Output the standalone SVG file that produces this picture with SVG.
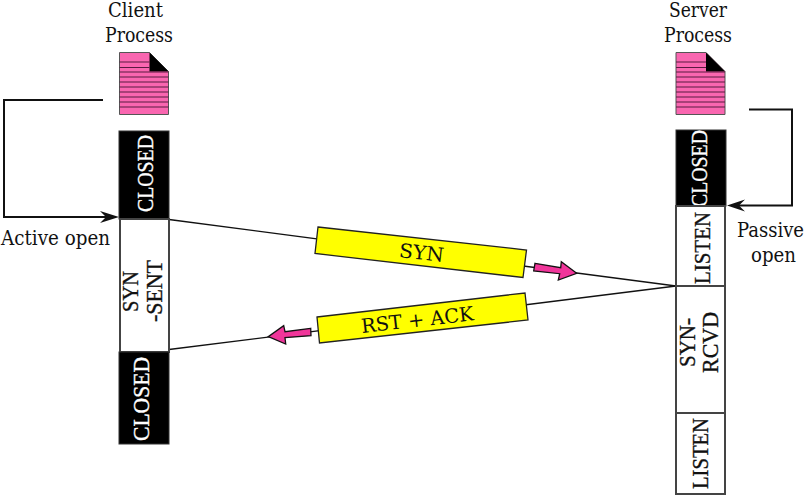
<svg xmlns="http://www.w3.org/2000/svg" width="811" height="495" viewBox="0 0 811 495">
<style>
text{font-family:"DejaVu Serif Condensed","DejaVu Serif","Liberation Serif",serif;font-size:19.500px;fill:#111}
.st{font-family:"Liberation Serif",serif;font-size:23px;stroke:#111;stroke-width:.35}
.w{fill:#fff;stroke:#fff}
.blk{fill:#000;stroke:#333;stroke-width:1}
.wht{fill:#fff;stroke:#444;stroke-width:2}
.ln{fill:none;stroke:#111;stroke-width:1.4}
.br{fill:none;stroke:#111;stroke-width:2}
.yl{fill:#ff0;stroke:#222;stroke-width:1.3}
.pk{fill:#f0359a;stroke:#111;stroke-width:1.3}
.dp{fill:#f966b0;stroke:#555;stroke-width:1}
.dl{stroke:#5a1a40;stroke-width:1.1}
</style>
<defs>
<g id="doc">
<path class="dp" d="M0 0H30L49 19V62H0Z"/>
<path d="M30 0L49 19H30Z" fill="#000"/>
<path class="dl" d="M0 9.500H30M0 15H30M0 19.500H49M0 24.500H49M0 29.500H49M0 34.500H49M0 39.500H49M0 44.500H49M0 49.500H49M0 54.500H49"/>
</g>
</defs>
<g id="connectors">
<path class="ln" d="M169 219.500L676 286"/>
<path class="ln" d="M169 349.500L676 286"/>
<path class="br" d="M103 100H4V217H108"/>
<path d="M119 217L100 211L106 217L100 223Z" fill="#111"/>
<path class="br" d="M749 109.500H792V205.500H738"/>
<path d="M727 205.500L745 199.500L739 205.500L745 211.500Z" fill="#111"/>
</g>
<g id="client-label"><text x="108" y="17" textLength="55" lengthAdjust="spacingAndGlyphs">Client</text><text x="105" y="42" textLength="68" lengthAdjust="spacingAndGlyphs">Process</text></g>
<g id="server-label"><text x="669" y="17" textLength="58" lengthAdjust="spacingAndGlyphs">Server</text><text x="664" y="42" textLength="68" lengthAdjust="spacingAndGlyphs">Process</text></g>
<g id="client-doc"><use href="#doc" x="119.500" y="52.500"/></g>
<g id="server-doc"><use href="#doc" x="676" y="52.500"/></g>
<g id="client-closed-1"><rect class="blk" x="119" y="131" width="50" height="88"/><text class="st w" transform="translate(152.500 212) rotate(-90)" textLength="77" lengthAdjust="spacingAndGlyphs">CLOSED</text></g>
<g id="client-syn-sent"><rect class="wht" x="120" y="219" width="49" height="133"/><text class="st" transform="translate(138 312) rotate(-90)" textLength="41" lengthAdjust="spacingAndGlyphs">SYN</text><text class="st" transform="translate(162 322) rotate(-90)" textLength="62" lengthAdjust="spacingAndGlyphs">-SENT</text></g>
<g id="client-closed-2"><rect class="blk" x="119" y="352" width="50" height="92"/><text class="st w" transform="translate(149 441) rotate(-90)" textLength="84" lengthAdjust="spacingAndGlyphs">CLOSED</text></g>
<g id="server-closed"><rect class="blk" x="676" y="130" width="50" height="76"/><text class="st w" transform="translate(707 207) rotate(-90)" textLength="77" lengthAdjust="spacingAndGlyphs">CLOSED</text></g>
<g id="server-listen-1"><rect class="wht" x="676" y="206" width="49" height="80"/><text class="st" transform="translate(710 284) rotate(-90)" textLength="72" lengthAdjust="spacingAndGlyphs">LISTEN</text></g>
<g id="server-syn-rcvd"><rect class="wht" x="676" y="286" width="49" height="127"/><text class="st" transform="translate(695 367) rotate(-90)" textLength="49" lengthAdjust="spacingAndGlyphs">SYN-</text><text class="st" transform="translate(718 373) rotate(-90)" textLength="61" lengthAdjust="spacingAndGlyphs">RCVD</text></g>
<g id="server-listen-2"><rect class="wht" x="676" y="413" width="49" height="81"/><text class="st" transform="translate(708 489) rotate(-90)" textLength="71" lengthAdjust="spacingAndGlyphs">LISTEN</text></g>
<g id="syn-msg"><polygon class="yl" points="318,227 526.500,250 523,277.500 315,253.500"/><text transform="translate(398.500 257) rotate(6.500)" textLength="45" lengthAdjust="spacingAndGlyphs">SYN</text>
<polygon class="pk" points="535,263.300 560.700,267.700 561.300,261.700 576.700,273.300 558.300,280 559.700,273.700 533.700,271"/></g>
<g id="rst-msg"><polygon class="yl" points="317,317 525,293 528,320 319.500,343"/><text transform="translate(362 333) rotate(-6.500)" textLength="113" lengthAdjust="spacingAndGlyphs">RST + ACK</text>
<polygon class="pk" points="310.700,328.300 285,331.700 283.700,325.700 268.300,336.700 285.700,344 285,337.700 311,335.700"/></g>
<g id="active-open"><text x="1" y="245" textLength="109" lengthAdjust="spacingAndGlyphs">Active open</text></g>
<g id="passive-open"><text x="737" y="237" textLength="67" lengthAdjust="spacingAndGlyphs">Passive</text><text x="751" y="262" textLength="45" lengthAdjust="spacingAndGlyphs">open</text></g>
</svg>
